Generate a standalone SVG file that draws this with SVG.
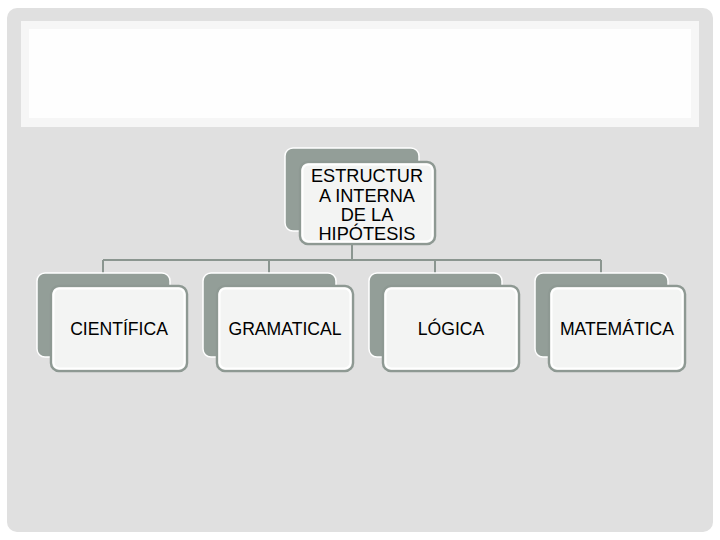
<svg xmlns="http://www.w3.org/2000/svg" width="720" height="540" viewBox="0 0 720 540">
<style>
.back{fill:#939e98;stroke:#ffffff;stroke-width:1.5}
.front{fill:#f3f4f3;stroke:#8e9993;stroke-width:2.5}
.inner{fill:none;stroke:#ffffff;stroke-width:2}
.lbl{font-family:"Liberation Sans",Arial,sans-serif;font-size:17.6px;fill:#000;text-anchor:middle}
.con{stroke:#8b9690;stroke-width:2;fill:none}
</style>
<rect x="0" y="0" width="720" height="540" fill="#ffffff"/>
<rect x="7" y="8" width="706" height="524" rx="10" fill="#e0e0e0"/>
<rect x="21" y="21" width="678" height="106" fill="#f6f6f6"/>
<rect x="29" y="29" width="662" height="89" fill="#fefefe"/>
<g id="connectors">
<path class="con" d="M352 244 V260 M103 260 H601 M103 260 V273 M269 260 V273 M435 260 V273 M601 260 V273"/>
</g>
<g id="root">
<rect class="back" x="285" y="148" width="134" height="83" rx="8"/>
<rect class="front" x="300" y="162" width="135" height="82" rx="8"/>
<rect class="inner" x="302.5" y="164.5" width="130" height="77" rx="6"/>
<text class="lbl" style="font-size:18.2px" x="367" y="182">ESTRUCTUR</text>
<text class="lbl" style="font-size:18.2px" x="367" y="201.5">A INTERNA</text>
<text class="lbl" style="font-size:18.2px" x="367" y="221">DE LA</text>
<text class="lbl" style="font-size:18.2px" x="367" y="240">HIPÓTESIS</text>
</g>
<g id="cientifica">
<rect class="back" x="37" y="273" width="133" height="84" rx="8"/>
<rect class="front" x="51" y="286" width="136" height="85" rx="8"/>
<rect class="inner" x="53.5" y="288.5" width="131" height="80" rx="6"/>
<text class="lbl" x="119" y="335">CIENTÍFICA</text>
</g>
<g id="gramatical">
<rect class="back" x="203" y="273" width="133" height="84" rx="8"/>
<rect class="front" x="217" y="286" width="136" height="85" rx="8"/>
<rect class="inner" x="219.5" y="288.5" width="131" height="80" rx="6"/>
<text class="lbl" x="285" y="335">GRAMATICAL</text>
</g>
<g id="logica">
<rect class="back" x="369" y="273" width="133" height="84" rx="8"/>
<rect class="front" x="383" y="286" width="136" height="85" rx="8"/>
<rect class="inner" x="385.5" y="288.5" width="131" height="80" rx="6"/>
<text class="lbl" x="451" y="335">LÓGICA</text>
</g>
<g id="matematica">
<rect class="back" x="535" y="273" width="133" height="84" rx="8"/>
<rect class="front" x="549" y="286" width="136" height="85" rx="8"/>
<rect class="inner" x="551.5" y="288.5" width="131" height="80" rx="6"/>
<text class="lbl" x="617" y="335">MATEMÁTICA</text>
</g>
</svg>
